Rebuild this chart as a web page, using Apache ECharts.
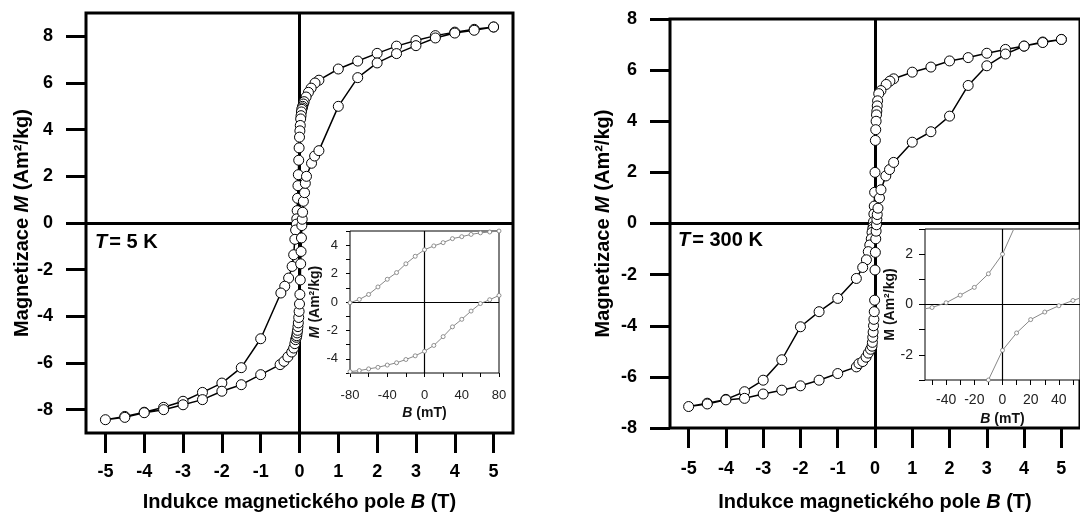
<!DOCTYPE html>
<html>
<head>
<meta charset="utf-8">
<script src="https://cdn.jsdelivr.net/npm/echarts@6/dist/echarts.min.js"></script>
<style>
html,body{margin:0;padding:0;background:#fff;}
#c{width:1080px;height:517px;}
</style>
</head>
<body>
<div id="c"></div>
<script>
// ---------- tick labels ----------
const xTicksMain = [-5, -4, -3, -2, -1, 0, 1, 2, 3, 4, 5];
const yTicksMain = [-8, -6, -4, -2, 0, 2, 4, 6, 8];
const xTicksInset300 = [-50, -40, -30, -20, -10, 0, 10, 20, 30, 40, 50];
const xLabelsInset300 = [-40, -20, 0, 20, 40];

// ---------- T = 5 K (B in tesla for high field, mT for low field) ----------
const k5UpperHighB = [5, 4.5, 4, 3.5, 3, 2.5, 2, 1.5, 1, 0.5, 0.4, 0.3, 0.23, 0.17, 0.12, 0.1];
const k5UpperHighM = [8.4, 8.3, 8.18, 8.03, 7.82, 7.58, 7.27, 6.94, 6.6, 6.12, 6.0, 5.78, 5.6, 5.4, 5.2, 5.1];
const k5UpperLowB = [80, 70, 60, 50, 40, 30, 20, 10, 0, -10, -20, -30, -40, -50, -60, -70, -80];
const k5UpperLowM = [5.0, 4.93, 4.87, 4.76, 4.6, 4.46, 4.18, 3.95, 3.68, 3.22, 2.69, 2.07, 1.6, 1.06, 0.53, 0.18, -0.05];
const k5UpperNegB = [-0.1, -0.12, -0.15, -0.19, -0.28, -0.38, -0.48, -1, -1.5, -2, -2.5, -3, -3.5, -4, -4.5, -5];
const k5UpperNegM = [-0.3, -0.7, -1.36, -1.86, -2.36, -2.71, -3.0, -4.96, -6.2, -6.86, -7.26, -7.64, -7.9, -8.11, -8.29, -8.43];
const k5LowerNegB = [-4.5, -4, -3.5, -3, -2.5, -2, -1.5, -1, -0.5, -0.4, -0.3, -0.2, -0.15, -0.12, -0.1];
const k5LowerNegM = [-8.33, -8.13, -8.0, -7.79, -7.57, -7.21, -6.93, -6.5, -6.07, -5.93, -5.74, -5.53, -5.36, -5.17, -5.0];
const k5LowerLowB = [-80, -70, -60, -50, -40, -30, -20, -10, 0, 10, 20, 30, 40, 50, 60, 70, 80];
const k5LowerLowM = [-4.9, -4.83, -4.71, -4.6, -4.44, -4.28, -4.05, -3.79, -3.47, -3.06, -2.44, -1.75, -1.22, -0.64, -0.11, 0.16, 0.46];
const k5LowerPosB = [0.1, 0.13, 0.15, 0.18, 0.31, 0.39, 0.5, 1, 1.5, 2, 2.5, 3, 3.5, 4, 4.5, 5];
const k5LowerPosM = [0.93, 1.3, 1.7, 2.0, 2.56, 2.87, 3.1, 5.0, 6.23, 6.86, 7.26, 7.6, 7.93, 8.14, 8.26, 8.4];

// ---------- T = 300 K ----------
const k300UpperHighB = [5, 4.5, 4, 3.5, 3, 2.5, 2, 1.5, 1, 0.5, 0.4, 0.3, 0.16, 0.1];
const k300UpperHighM = [7.2, 7.1, 6.94, 6.81, 6.66, 6.49, 6.36, 6.12, 5.92, 5.66, 5.57, 5.44, 5.2, 5.08];
const k300UpperLowB = [70, 60, 50, 40, 30, 20, 10, 0, -10, -20, -30, -40, -50, -60];
const k300UpperLowM = [4.8, 4.6, 4.4, 4.25, 4.0, 3.67, 3.25, 2.0, 1.22, 0.68, 0.37, 0.07, -0.12, -0.22];
const k300UpperNegB = [-0.08, -0.1, -0.14, -0.18, -0.23, -0.33, -0.5, -1, -1.5, -2, -2.5, -3, -3.5, -4, -4.5, -5];
const k300UpperNegM = [-0.35, -0.6, -0.84, -1.1, -1.42, -1.72, -2.15, -2.93, -3.45, -4.04, -5.33, -6.13, -6.58, -6.88, -7.03, -7.16];
const k300LowerNegB = [-4.5, -4, -3.5, -3, -2.5, -2, -1.5, -1, -0.5, -0.43, -0.33, -0.24, -0.18, -0.12, -0.08];
const k300LowerNegM = [-7.06, -6.9, -6.84, -6.67, -6.52, -6.35, -6.13, -5.87, -5.61, -5.48, -5.4, -5.23, -5.07, -4.92, -4.8];
const k300LowerLowB = [-70, -60, -50, -40, -30, -20, -10, 0, 10, 20, 30, 40, 50, 60];
const k300LowerLowM = [-4.65, -4.45, -4.25, -4.0, -3.75, -3.45, -3.0, -1.82, -1.13, -0.6, -0.3, -0.05, 0.16, 0.35];
const k300LowerPosB = [0.08, 0.12, 0.16, 0.29, 0.39, 0.5, 1, 1.5, 2, 2.5, 3, 3.5, 4, 4.5, 5];
const k300LowerPosM = [0.6, 1.0, 1.32, 1.86, 2.11, 2.39, 3.18, 3.59, 4.2, 5.4, 6.17, 6.63, 6.94, 7.08, 7.2];

// ---------- build ----------
const FONT = "'Liberation Sans', Arial, sans-serif";
const pairs = (B, M, scale) => B.map((b, i) => [b * scale, M[i]]);
const mT = 0.001;

const main5 = [].concat(
  pairs(k5UpperHighB, k5UpperHighM, 1), pairs(k5UpperLowB, k5UpperLowM, mT), pairs(k5UpperNegB, k5UpperNegM, 1),
  pairs(k5LowerNegB, k5LowerNegM, 1), pairs(k5LowerLowB, k5LowerLowM, mT), pairs(k5LowerPosB, k5LowerPosM, 1));
const main300 = [].concat(
  pairs(k300UpperHighB, k300UpperHighM, 1), pairs(k300UpperLowB, k300UpperLowM, mT), pairs(k300UpperNegB, k300UpperNegM, 1),
  pairs(k300LowerNegB, k300LowerNegM, 1), pairs(k300LowerLowB, k300LowerLowM, mT), pairs(k300LowerPosB, k300LowerPosM, 1));

const boldLabel = {fontSize: 18, fontWeight: 'bold', color: '#000', fontFamily: FONT};
const nameStyle = {fontSize: 20, fontWeight: 'bold', color: '#000', fontFamily: FONT,
  rich: {i: {fontSize: 20, fontWeight: 'bold', fontStyle: 'italic', color: '#000', fontFamily: FONT}}};
const insetLabel = {fontSize: 13, color: '#222', fontFamily: FONT};
const insetLabel300 = {fontSize: 14, color: '#222', fontFamily: FONT};
const insetName = {fontSize: 14, fontWeight: 'bold', color: '#111', fontFamily: FONT,
  rich: {i: {fontSize: 14, fontWeight: 'bold', fontStyle: 'italic', color: '#111', fontFamily: FONT}}};
const noLine = {show: false, onZero: false};

function mainX(gi, margin, gap) {
  return {gridIndex: gi, type: 'value', min: -5.5, max: 5.5, position: 'bottom',
    axisLine: noLine, splitLine: {show: false},
    axisTick: {show: true, inside: false, customValues: xTicksMain, length: 20, lineStyle: {width: 3, color: '#000'}},
    axisLabel: Object.assign({customValues: xTicksMain, margin: margin}, boldLabel),
    name: 'Indukce magnetického pole {i|B} (T)', nameLocation: 'middle', nameGap: gap, nameTextStyle: nameStyle};
}
function mainY(gi, min, max, gap) {
  return {gridIndex: gi, type: 'value', min: min, max: max, position: 'left',
    axisLine: noLine, splitLine: {show: false},
    axisTick: {show: true, inside: false, customValues: yTicksMain, length: 20, lineStyle: {width: 3, color: '#000'}},
    axisLabel: Object.assign({customValues: yTicksMain, margin: 33}, boldLabel),
    name: 'Magnetizace {i|M} (Am²/kg)', nameLocation: 'middle', nameGap: gap, nameTextStyle: nameStyle};
}
const zeroLines = (w) => ({silent: true, symbol: ['none', 'none'], z: 1, label: {show: false},
  lineStyle: {color: '#000', width: w, type: 'solid'}, emphasis: {disabled: true},
  data: [{xAxis: 0}, {yAxis: 0}]});

function mainSeries(data, ai) {
  return {type: 'line', data: data, xAxisIndex: ai, yAxisIndex: ai, z: 3,
    symbol: 'circle', symbolSize: 10, showSymbol: true,
    itemStyle: {color: '#fff', borderColor: '#000', borderWidth: 1},
    lineStyle: {color: '#000', width: 1.5}, emphasis: {disabled: true},
    markLine: zeroLines(3)};
}
function insetSeries(data, ai, withZero) {
  const s = {type: 'line', data: data, xAxisIndex: ai, yAxisIndex: ai, z: 3,
    symbol: 'circle', symbolSize: 4, showSymbol: true,
    itemStyle: {color: '#fff', borderColor: '#777', borderWidth: 0.8},
    lineStyle: {color: '#888', width: 1}, emphasis: {disabled: true}};
  if (withZero) s.markLine = zeroLines(1.2);
  return s;
}
const italicT = {fontSize: 20, fontWeight: 'bold', fontStyle: 'italic', fontFamily: FONT, fill: '#000', padding: [0, 2, 0, 0]};
const plainT = {fontSize: 20, fontWeight: 'bold', fontFamily: FONT, fill: '#000'};

const option = {
  animation: false,
  backgroundColor: '#fff',
  grid: [
    {left: 86, top: 13, width: 427, height: 420, show: true, borderColor: '#000', borderWidth: 3, backgroundColor: 'transparent'},
    {left: 670, top: 19, width: 417, height: 412, show: true, borderColor: '#000', borderWidth: 3, backgroundColor: 'transparent'},
    {left: 350, top: 231, width: 149, height: 142, show: true, borderColor: '#000', borderWidth: 1, backgroundColor: '#fff'},
    {left: 925, top: 229, width: 159, height: 151, show: true, borderColor: '#000', borderWidth: 1, backgroundColor: '#fff'}
  ],
  xAxis: [
    mainX(0, 30, 59),
    mainX(1, 32, 64),
    {gridIndex: 2, type: 'value', min: -80, max: 80, interval: 20, position: 'bottom',
      axisLine: noLine, splitLine: {show: false},
      axisTick: {show: true, inside: false, length: 4, lineStyle: {color: '#000', width: 1}},
      axisLabel: Object.assign({margin: 16, formatter: v => (v % 40 === 0 ? String(v) : '')}, insetLabel),
      name: '{i|B} (mT)', nameLocation: 'middle', nameGap: 33, nameTextStyle: insetName},
    {gridIndex: 3, type: 'value', min: -55, max: 55, position: 'bottom',
      axisLine: noLine, splitLine: {show: false},
      axisTick: {show: true, inside: false, customValues: xTicksInset300, length: 5, lineStyle: {color: '#000', width: 1}},
      axisLabel: Object.assign({margin: 13, customValues: xLabelsInset300}, insetLabel300),
      name: '{i|B} (mT)', nameLocation: 'middle', nameGap: 32, nameTextStyle: insetName}
  ],
  yAxis: [
    mainY(0, -9, 9, 54),
    mainY(1, -8, 8, 57),
    {gridIndex: 2, type: 'value', min: -5, max: 5, interval: 1, position: 'left',
      axisLine: noLine, splitLine: {show: false},
      axisTick: {show: true, inside: false, length: 4, lineStyle: {color: '#000', width: 1}},
      axisLabel: Object.assign({margin: 12, formatter: v => (v % 2 === 0 ? String(v) : '')}, insetLabel),
      name: '{i|M} (Am²/kg)', nameLocation: 'middle', nameGap: 25, nameTextStyle: insetName},
    {gridIndex: 3, type: 'value', min: -3, max: 3, interval: 1, position: 'left',
      axisLine: noLine, splitLine: {show: false},
      axisTick: {show: true, inside: false, length: 6, lineStyle: {color: '#000', width: 1}},
      axisLabel: Object.assign({margin: 12, formatter: v => (v % 2 === 0 ? String(v) : '')}, insetLabel300),
      name: 'M (Am²/kg)', nameLocation: 'middle', nameGap: 22, nameTextStyle: insetName}
  ],
  series: [
    mainSeries(main5, 0),
    mainSeries(main300, 1),
    insetSeries(pairs(k5UpperLowB, k5UpperLowM, 1), 2, true),
    insetSeries(pairs(k5LowerLowB, k5LowerLowM, 1), 2, false),
    insetSeries(pairs(k300UpperLowB, k300UpperLowM, 1), 3, true),
    insetSeries(pairs(k300LowerLowB, k300LowerLowM, 1), 3, false)
  ],
  graphic: [
    {type: 'text', left: 95, top: 232, z: 10, style: {text: '{i|T}{n|= 5 K}', fill: '#000', rich: {i: italicT, n: plainT}}},
    {type: 'text', left: 678, top: 230, z: 10, style: {text: '{i|T}{n|= 300 K}', fill: '#000', rich: {i: italicT, n: plainT}}}
  ]
};

const chart = echarts.init(document.getElementById('c'), null, {renderer: 'canvas'});
chart.setOption(option);
</script>
</body>
</html>
